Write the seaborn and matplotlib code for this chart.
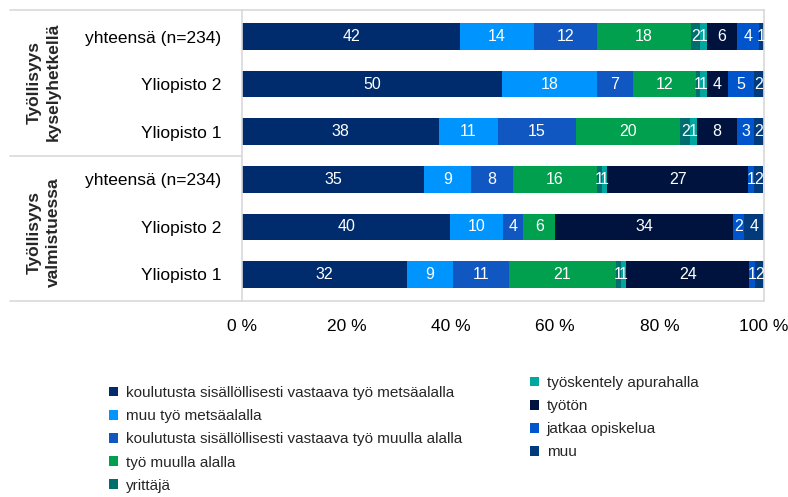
"""Stacked employment shares by university, two survey points."""

import matplotlib

matplotlib.use("Agg")
import matplotlib.pyplot as plt
import pandas as pd
import seaborn as sns
from matplotlib import font_manager
from matplotlib.patches import Patch

# rows, top to bottom
row_ids = ["k_yht", "k_y2", "k_y1", "v_yht", "v_y2", "v_y1"]
row_labels = [
    "yhteensä (n=234)", "Yliopisto 2", "Yliopisto 1",
    "yhteensä (n=234)", "Yliopisto 2", "Yliopisto 1",
]
groups = ["Työllisyys\nkyselyhetkellä", "Työllisyys\nvalmistuessa"]

categories = [
    "koulutusta sisällöllisesti vastaava työ metsäalalla",
    "muu työ metsäalalla",
    "koulutusta sisällöllisesti vastaava työ muulla alalla",
    "työ muulla alalla",
    "yrittäjä",
    "työskentely apurahalla",
    "työtön",
    "jatkaa opiskelua",
    "muu",
]
metsa_koul = [41.8, 49.8, 37.8, 34.9, 39.9, 31.6]
metsa_muu = [14.1, 18.2, 11.2, 9.0, 10.1, 8.9]
muu_koul = [12.1, 6.9, 15.0, 8.0, 3.9, 10.6]
muu_ala = [18.0, 12.1, 19.9, 16.1, 6.1, 20.6]
yrittaja = [1.8, 0.8, 2.0, 0.9, 0.0, 0.9]
apuraha = [1.2, 1.2, 1.2, 1.0, 0.0, 1.0]
tyoton = [5.9, 4.1, 7.8, 27.1, 34.1, 23.6]
jatkaa = [4.1, 4.9, 3.1, 1.0, 2.0, 1.0]
muu = [1.0, 2.0, 2.0, 1.9, 4.0, 1.8]

colors = [
    "#002B6D", "#0094FF", "#1157C2", "#00A04F", "#006E6E",
    "#00A6A0", "#00133F", "#0055CC", "#023B7C",
]
xticks = [0, 20, 40, 60, 80, 100]

sns.set_theme(style="white")
installed = {f.name for f in font_manager.fontManager.ttflist}
narrow = next(
    (f for f in ["Liberation Sans Narrow", "Liberation Sans"] if f in installed),
    "DejaVu Sans",
)
plt.rcParams["font.family"] = [narrow, "DejaVu Sans"]

df = pd.DataFrame(
    dict(zip(categories, [metsa_koul, metsa_muu, muu_koul, muu_ala, yrittaja,
                          apuraha, tyoton, jatkaa, muu])),
)
df["row"] = row_ids
cum = df[categories].cumsum(axis=1)

W, H = 788, 497
fig = plt.figure(figsize=(W / 100, H / 100), dpi=100)
ax = fig.add_axes([242 / W, 1 - 301 / H, 522 / W, 291 / H])

# overlay cumulative bars, longest first
for cat, col in reversed(list(zip(categories, colors))):
    sns.barplot(
        x=cum[cat], y=df["row"], order=row_ids, orient="h", color=col,
        saturation=1, width=0.56, linewidth=0, errorbar=None, ax=ax,
    )

for i in range(len(row_ids)):
    for cat in categories:
        v = df.loc[i, cat]
        if v >= 0.5:
            ax.text(cum.loc[i, cat] - v / 2, i, f"{v:.0f}", ha="center",
                    va="center", color="white", fontsize=11.5)

ax.set_xlim(0, 100)
ax.set_xticks(xticks)
ax.set_xticklabels([f"{t} %" for t in xticks])
ax.set_yticks(range(len(row_ids)))
ax.set_yticklabels(row_labels)
ax.set_xlabel("")
ax.set_ylabel("")
ax.tick_params(axis="y", length=0, pad=15, labelsize=12.5, colors="black")
ax.tick_params(axis="x", length=0, pad=13, labelsize=12.5, colors="black")

grey = "#D9D9D9"
for sp in ax.spines.values():
    sp.set_visible(True)
    sp.set_color(grey)
    sp.set_linewidth(1.2)
for yy in [0, 0.5, 1]:
    ax.plot([-(242 - 10) / 522, 0], [yy, yy], transform=ax.transAxes,
            color=grey, lw=1.2, clip_on=False)

for g, yc in zip(groups, [82, 232]):
    fig.text(44 / W, 1 - yc / H, g, rotation=90, ha="center", va="center",
             fontsize=12.5, fontweight="bold", linespacing=1.3,
             multialignment="center")

handles = [Patch(facecolor=c, edgecolor="none") for c in colors]
leg_kw = dict(frameon=False, fontsize=11, handlelength=0.6, handleheight=0.6,
              handletextpad=0.5, labelspacing=0.6, borderpad=0,
              borderaxespad=0, loc="upper left")
fig.legend(handles[:5], categories[:5],
           bbox_to_anchor=(109 / W, 1 - 386 / H), **leg_kw)
fig.legend(handles[5:], categories[5:],
           bbox_to_anchor=(530 / W, 1 - 376 / H), **leg_kw)

fig.savefig("out.png", dpi=100)
